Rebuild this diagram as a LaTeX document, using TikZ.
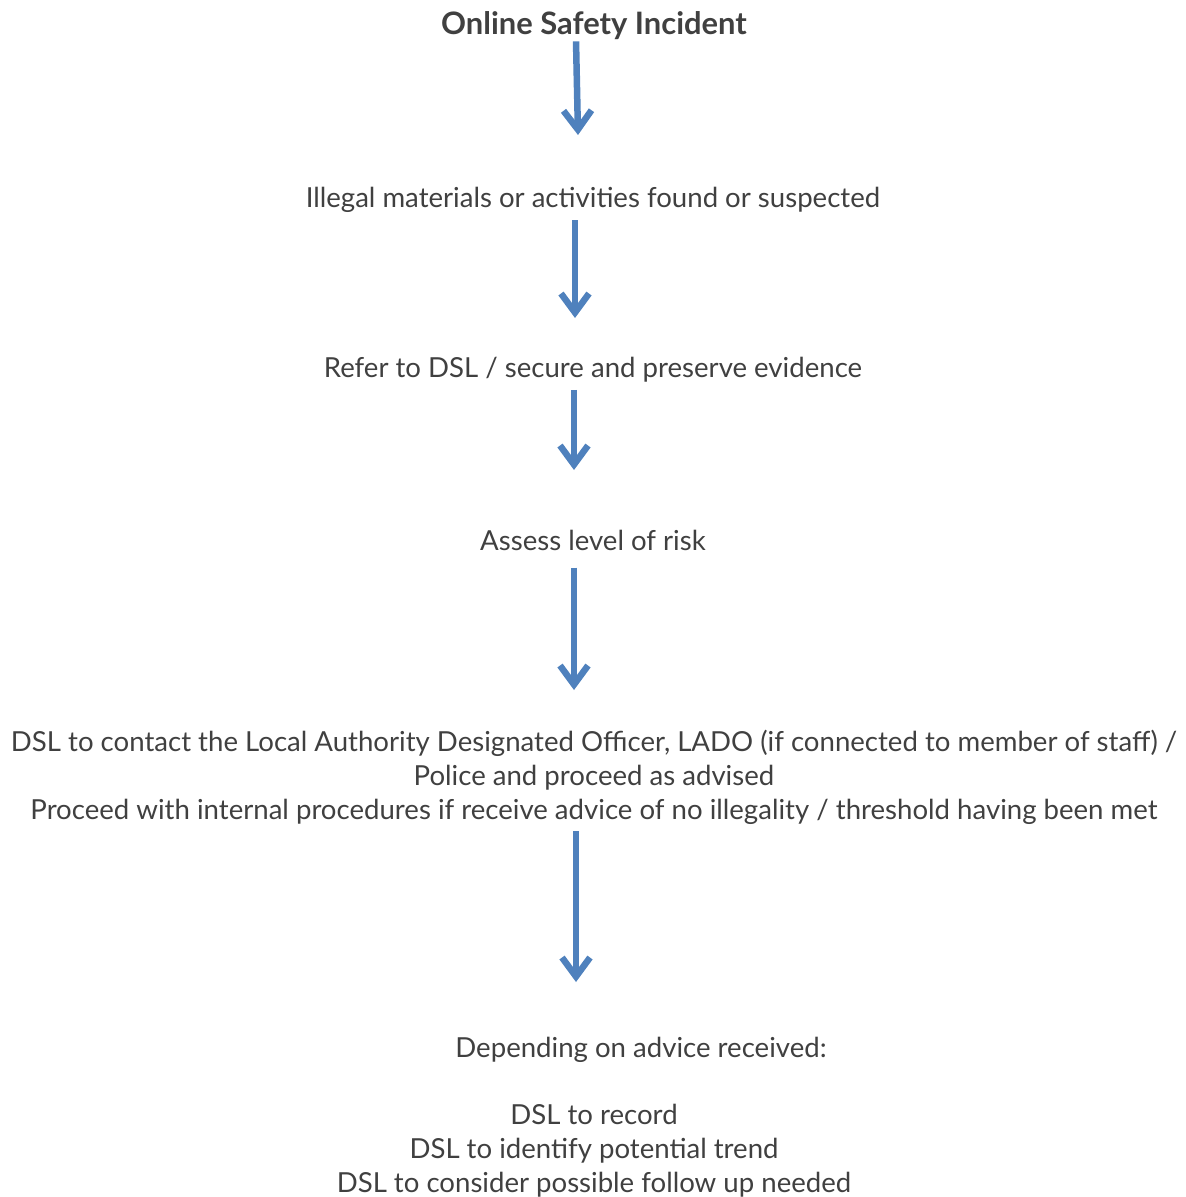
\documentclass[tikz,border=0pt]{standalone}
\usepackage{fontspec}
\setmainfont{Lato}
\usetikzlibrary{arrows.meta}
\definecolor{flowblue}{HTML}{4F81BD}
\definecolor{textgrey}{HTML}{404040}
\tikzset{flow/.style = {draw=flowblue, line width=0.13cm, shorten <=0.14cm,
                        -{Straight Barb[length=0.38cm, width=0.56cm]},
                        preaction={draw=black!18, transform canvas={shift={(0.02cm,-0.05cm)}}}}}
\tikzset{txt/.style = {text=textgrey, align=center, inner sep=0,
                       font=\fontsize{15.7}{19.3}\selectfont}}

\begin{document}
\begin{tikzpicture}[x=0.02cm, y=-0.02cm]
      \useasboundingbox (0, 0) rectangle (1186, 1197);

      \node [txt, font=\fontsize{17.6}{21}\selectfont\bfseries] (title) at (594, 26) {Online Safety Incident};
      \node [txt] (illegal) at (593, 200) {Illegal materials or activities found or suspected};
      \node [txt] (refer) at (593, 370) {Refer to DSL / secure and preserve evidence};
      \node [txt] (assess) at (593, 540) {Assess level of risk};
      \node [txt] (lado) at (594, 777) {DSL to contact the Local Authority Designated Officer, LADO (if connected to member of staff) /\\
                                        Police and proceed as advised\\
                                        Proceed with internal procedures if receive advice of no illegality / threshold having been met};
      \node [txt] (advice) at (641, 1050) {Depending on advice received:};
      \node [txt] (record) at (594, 1151) {DSL to record\\
                                           DSL to identify potential trend\\
                                           DSL to consider possible follow up needed};

      \coordinate (a1) at (578, 135);
      \coordinate (a2) at (575, 318);
      \coordinate (a3) at (574, 470);
      \coordinate (a4) at (574, 690);
      \coordinate (a5) at (576, 982);

      \draw [flow, shorten <=0.02cm] (title.south -| 576, 0) -- (a1);
      \draw [flow] (illegal.south -| a2) -- (a2);
      \draw [flow] (refer.south -| a3) -- (a3);
      \draw [flow] (assess.south -| a4) ++(0, 10) -- (a4);
      \draw [flow] (lado.south -| a5) -- (a5);
\end{tikzpicture}
\end{document}
